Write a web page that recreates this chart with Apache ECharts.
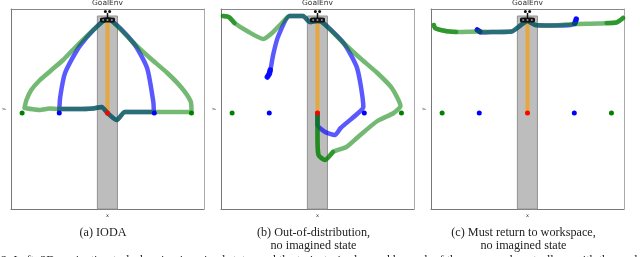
<!DOCTYPE html>
<html><head><meta charset="utf-8">
<style>html,body{margin:0;padding:0;background:#fff}#c{width:640px;height:257px;filter:blur(0.3px)}</style>
<script src="https://cdn.jsdelivr.net/npm/echarts@6/dist/echarts.min.js"></script>
</head><body><div id="c"></div>
<script>
// coordinates: x -10..10, y 0..20 (environment units)
const captions = ["(a) IODA", "(b) Out-of-distribution,\nno imagined state", "(c) Must return to workspace,\nno imagined state"];
const captionShift = [-4.5, -4, -4];
const envTitle = "GoalEnv";
const figureLine = "2: Left: 2D navigation task showing imagined states and the trajectories learned by each of the compared controllers, with the goals";
const redGoal = [[0, 9.6]];
const blueGoals = [[-5, 9.6], [4.85, 9.6]];
const greenGoals = [[-8.85, 9.6], [8.7, 9.6]];
const workspace = [-1.05, 1.03, 0, 19.3];
const orangeA = [[0, 18.9], [0, 9.6]];

const greenA = [[-8.6,10.1],[-8.4,10.9],[-7.9,11.9],[-7.0,12.9],[-5.8,13.9],[-4.6,14.9],[-3.4,16.1],[-1.8,17.6],[0,19.0],[2.7,16.6],[4.4,15.1],[6.2,13.6],[7.7,12.1],[8.6,10.8],[8.7,10.0],[8.7,9.7],[4.8,9.7],[1.8,9.7],[0.95,8.9],[0,9.6],[-0.6,10.2],[-1.5,10.05],[-3.2,10.0],[-5,10.0],[-6,10.05],[-7,9.9],[-8.6,10.1]];
const blueA = [[-5,9.8],[-4.9,11.2],[-4.4,13.6],[-2.8,16.4],[0,19.0],[2.7,16.6],[4.1,14.1],[4.75,10.7],[4.8,9.7],[1.8,9.7],[0.95,8.9],[0,9.6],[-0.6,10.2],[-1.5,10.05],[-3.2,10.0],[-5,10.0]];

const greenB = [[-9.8,19.3],[-9.2,19.2],[-8.6,18.6],[-7.3,17.8],[-5.6,17.0],[-4.7,17.6],[-3.7,18.6],[-2.9,19.3],[-1.5,19.3],[-0.8,18.7],[0,18.8],[0.6,18.6],[2.7,16.6],[4.4,15.1],[6.2,13.6],[7.7,12.1],[8.6,10.3],[7.9,9.6],[6.2,8.8],[4.2,7.2],[3.0,6.2],[1.6,5.7],[0.8,4.9],[0.1,5.4],[0,7.4],[0,9.6]];
const blueB = [[-5.2,13.2],[-4.9,13.8],[-4.6,15.4],[-4.1,17.2],[-2.9,19.3],[-1.5,19.3],[-0.8,18.7],[0,18.8],[0.6,18.6],[2.7,16.6],[4.1,14.1],[4.75,10.2],[4.1,9.5],[2.4,8.1],[1.8,7.4],[0.8,7.7],[0,8.4],[0,9.6]];
const greenBTails = [[[-9.8,19.3],[-9.2,19.2],[-8.6,18.6]], [[1.6,5.7],[0.8,4.9],[0.1,5.4],[0,7.4],[0,9.6]]];
const blueBTails = [[[-5.2,13.2],[-5.0,13.5],[-4.9,13.9]]];

const greenC = [[-9.7,18.4],[-9.6,18.1],[-8.5,17.8],[-7.1,17.7],[-5.2,17.75],[-3.7,17.7],[-1.65,17.75],[0,18.8],[0.8,18.4],[2.5,18.35],[4.9,18.5],[7.3,18.55],[9.2,18.65],[9.9,19.1]];
const blueC = [[-5.2,17.9],[-4.85,17.65],[-3.7,17.7],[-1.65,17.75],[0,18.8],[0.8,18.4],[2.5,18.35],[4.5,18.4],[5.0,18.65],[5.05,19.0]];
const greenCTails = [[[-9.7,18.4],[-9.6,18.1],[-8.5,17.8],[-7.4,17.7]], [[8.2,18.6],[9.2,18.65],[9.9,19.1]]];
const blueCTails = [[[-5.2,17.9],[-4.95,17.75]], [[4.9,18.55],[5.0,18.65],[5.05,19.0]]];

const panels = [
  {left:11, blue:blueA, green:greenA, tails:[], blueTails:[], orange:orangeA},
  {left:221, blue:blueB, green:greenB, tails:greenBTails, blueTails:blueBTails, orange:[[0,18.7],[0,9.6]]},
  {left:431, blue:blueC, green:greenC, tails:greenCTails, blueTails:blueCTails, orange:[[0,18.7],[0,9.6]]}
];
const W = 193, H = 200, TOP = 9;
const grid=[], xAxis=[], yAxis=[], series=[], title=[];
const lineSer=(i,data,color,op,w,z,smooth)=>({type:'line',xAxisIndex:i,yAxisIndex:i,data,showSymbol:false,symbol:'none',silent:true,z,smooth:smooth||false,
  lineStyle:{color,opacity:op,width:w,cap:'round',join:'round'}});
const scatter=(i,data,color,size,z,symbol)=>({type:'scatter',xAxisIndex:i,yAxisIndex:i,data,silent:true,z,symbol:symbol||'circle',symbolSize:size,itemStyle:{color,opacity:1}});
panels.forEach((p,i)=>{
  grid.push({left:p.left,top:TOP,width:W,height:H,show:false});
  xAxis.push({gridIndex:i,type:'value',min:-10,max:10,splitLine:{show:false},axisTick:{show:false},axisLabel:{show:false},
    axisLine:{onZero:false,lineStyle:{color:'#777',width:1}},name:'x',nameLocation:'middle',nameGap:4,nameTextStyle:{fontSize:5,color:'#333',fontFamily:'DejaVu Sans'}});
  yAxis.push({gridIndex:i,type:'value',min:0,max:20,splitLine:{show:false},axisTick:{show:false},axisLabel:{show:false},
    axisLine:{onZero:false,lineStyle:{color:'#777',width:1}},name:'y',nameLocation:'middle',nameGap:5,nameRotate:90,nameTextStyle:{fontSize:5,color:'#333',fontFamily:'DejaVu Sans'}});
  xAxis.push({gridIndex:i,type:'value',position:'top',min:-10,max:10,splitLine:{show:false},axisTick:{show:false},axisLabel:{show:false},axisLine:{onZero:false,lineStyle:{color:'#888',width:1}}});
  yAxis.push({gridIndex:i,type:'value',position:'right',min:0,max:20,splitLine:{show:false},axisTick:{show:false},axisLabel:{show:false},axisLine:{onZero:false,lineStyle:{color:'#aaa',width:1}}});
  title.push({text:envTitle,left:p.left+W/2,top:-1,padding:0,textAlign:'center',textStyle:{fontSize:7.5,fontWeight:'normal',color:'#333',fontFamily:'DejaVu Sans'}});
  title.push({text:captions[i],left:p.left+W/2+captionShift[i],top:226,padding:0,textAlign:'center',textStyle:{fontSize:12.2,fontWeight:'normal',color:'#222',lineHeight:13.5,fontFamily:'Liberation Serif'}});
});
title.push({text:figureLine,left:1,top:254.5,padding:0,textStyle:{fontSize:12.2,fontWeight:'normal',color:'#222',fontFamily:'Liberation Serif'}});
panels.forEach((p,i)=>{
  const a=2*i;
  series.push({type:'line',xAxisIndex:a,yAxisIndex:a,data:[],silent:true,z:1,
    markArea:{silent:true,itemStyle:{color:'#bdbdbd',borderColor:'#929292',borderWidth:1},
      data:[[{xAxis:workspace[0],yAxis:workspace[2]},{xAxis:workspace[1],yAxis:workspace[3]}]]}});
  series.push(lineSer(a,p.orange,'#e5a73f',1,4,2));
  series.push(lineSer(a,p.blue,'#0000ff',0.65,4.5,3,0.2));
  p.blueTails.forEach(t=>series.push(lineSer(a,t,'#0000ff',0.9,5.5,3)));
  series.push(lineSer(a,p.green,'#008000',0.55,4.5,4,0.2));
  p.tails.forEach(t=>series.push(lineSer(a,t,'#008000',0.6,4.5,5,0.2)));
  series.push(scatter(a,greenGoals,'#008000',5,6));
  series.push(scatter(a,blueGoals,'#0000ff',5,6));
  series.push(scatter(a,redGoal,'#ff0000',5,7));
  // robot gripper marker
  series.push(scatter(a,[[0,18.9]],'#111',[15,5],8,'roundRect'));
  series.push(scatter(a,[[-0.45,18.9],[0,18.9],[0.45,18.9]],'#999',[2,2],9));
  series.push(scatter(a,[[0,19.35]],'#111',[1.5,5],8,'rect'));
  series.push(scatter(a,[[-0.22,19.75],[0.22,19.75]],'#111',[3,3],8));
});
const chart=echarts.init(document.getElementById('c'),null,{renderer:'canvas'});
chart.setOption({animation:false,backgroundColor:'#fff',grid,xAxis,yAxis,title,series,tooltip:{show:false},legend:{show:false}});
</script></body></html>
